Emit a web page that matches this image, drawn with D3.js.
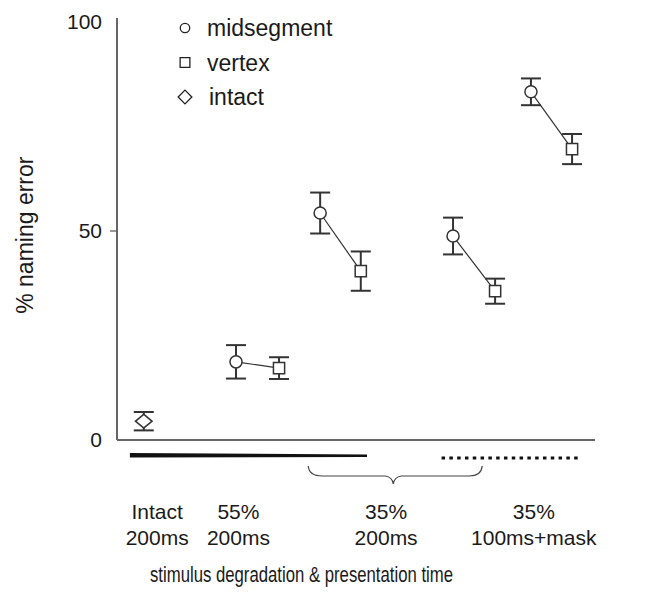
<!DOCTYPE html>
<html>
<head>
<meta charset="utf-8">
<script src="https://cdn.jsdelivr.net/npm/d3@7"></script>
<style>
  body { margin: 0; background: #fff; }
  text { font-family: "Liberation Sans", Arial, sans-serif; fill: #1a1a1a; }
</style>
</head>
<body>
<script>
const WIDTH = 654
const HEIGHT = 592

// positions along the x axis (arbitrary 0-100 units)
const midX = [24.9, 42.5, 70.3, 86.6]
const vertexX = [33.9, 51, 79.1, 95.2]
const intactX = [5.6]

// % naming error and error bar half-widths
const midsegment = [18.7, 54.3, 48.8, 83.3]
const midsegmentErr = [4, 4.9, 4.4, 3.2]
const vertex = [17.2, 40.4, 35.6, 69.6]
const vertexErr = [2.6, 4.7, 3, 3.6]
const intact = [4.5]
const intactErr = [2.2]

const yTicks = [0, 50, 100]

const catLines1 = ['Intact', '55%', '35%', '35%']
const catLines2 = ['200ms', '200ms', '200ms', '100ms+mask']
const catX = [8.4, 25.4, 56.3, 87.2]

const legendNames = ['midsegment', 'vertex', 'intact']

const svg = d3.select('body')
  .append('svg')
  .attr('width', WIDTH)
  .attr('height', HEIGHT)

const x = d3.scaleLinear().domain([0, 100]).range([117, 595])
const y = d3.scaleLinear().domain([0, 100]).range([440, 22])

// axes
svg.append('line')
  .attr('x1', x(0)).attr('x2', x(0))
  .attr('y1', 18).attr('y2', y(0))
  .attr('stroke', '#333').attr('stroke-width', 1.5)
svg.append('line')
  .attr('x1', x(0)).attr('x2', x(100))
  .attr('y1', y(0)).attr('y2', y(0))
  .attr('stroke', '#666').attr('stroke-width', 2)

svg.append('line')
  .attr('x1', x(0) - 7).attr('x2', x(0))
  .attr('y1', y(50)).attr('y2', y(50))
  .attr('stroke', '#555').attr('stroke-width', 1.2)

svg.selectAll('.ytick')
  .data(yTicks)
  .enter()
  .append('text')
  .attr('class', 'ytick')
  .attr('x', 102)
  .attr('y', d => y(d) + 7)
  .attr('text-anchor', 'end')
  .style('font-size', '21px')
  .text(d => d)

svg.append('text')
  .attr('transform', `translate(33, ${y(49)}) rotate(-90)`)
  .attr('text-anchor', 'middle')
  .style('font-size', '23px')
  .text('% naming error')

// connecting lines
const pairs = midX.map((d, i) => ({ x1: d, y1: midsegment[i], x2: vertexX[i], y2: vertex[i] }))
svg.selectAll('.link')
  .data(pairs)
  .enter()
  .append('line')
  .attr('x1', d => x(d.x1)).attr('y1', d => y(d.y1))
  .attr('x2', d => x(d.x2)).attr('y2', d => y(d.y2))
  .attr('stroke', '#333').attr('stroke-width', 1.2)

// error bars
const bars = []
midX.forEach((d, i) => bars.push({ x: d, v: midsegment[i], e: midsegmentErr[i] }))
vertexX.forEach((d, i) => bars.push({ x: d, v: vertex[i], e: vertexErr[i] }))
intactX.forEach((d, i) => bars.push({ x: d, v: intact[i], e: intactErr[i] }))

const CAP = 10
const eb = svg.selectAll('.err').data(bars).enter().append('g').attr('class', 'err')
  .attr('stroke', '#333').attr('stroke-width', 2)
eb.append('line')
  .attr('x1', d => x(d.x)).attr('x2', d => x(d.x))
  .attr('y1', d => y(d.v + d.e)).attr('y2', d => y(d.v - d.e))
eb.append('line')
  .attr('x1', d => x(d.x) - CAP).attr('x2', d => x(d.x) + CAP)
  .attr('y1', d => y(d.v + d.e)).attr('y2', d => y(d.v + d.e))
eb.append('line')
  .attr('x1', d => x(d.x) - CAP).attr('x2', d => x(d.x) + CAP)
  .attr('y1', d => y(d.v - d.e)).attr('y2', d => y(d.v - d.e))

// markers
const circle = d3.symbol().type(d3.symbolCircle).size(115)
const square = d3.symbol().type(d3.symbolSquare).size(125)
const diamond = d3.symbol().type(d3.symbolDiamond2).size(120)

svg.selectAll('.mid')
  .data(midX)
  .enter()
  .append('path')
  .attr('transform', (d, i) => `translate(${x(d)}, ${y(midsegment[i])})`)
  .attr('d', circle)
  .attr('fill', '#fff').attr('stroke', '#333').attr('stroke-width', 1.5)

svg.selectAll('.vtx')
  .data(vertexX)
  .enter()
  .append('path')
  .attr('transform', (d, i) => `translate(${x(d)}, ${y(vertex[i])})`)
  .attr('d', square)
  .attr('fill', '#fff').attr('stroke', '#333').attr('stroke-width', 1.5)

svg.selectAll('.int')
  .data(intactX)
  .enter()
  .append('path')
  .attr('transform', (d, i) => `translate(${x(d)}, ${y(intact[i])}) scale(1.2, 1)`)
  .attr('d', diamond)
  .attr('fill', '#fff').attr('stroke', '#333').attr('stroke-width', 1.5)

// legend
const legendSymbols = [
  d3.symbol().type(d3.symbolCircle).size(70),
  d3.symbol().type(d3.symbolSquare).size(95),
  d3.symbol().type(d3.symbolDiamond2).size(120)
]
const legend = svg.append('g').attr('transform', 'translate(185, 28)')
legend.selectAll('path')
  .data(legendNames)
  .enter()
  .append('path')
  .attr('transform', (d, i) => `translate(0, ${i * 34.5})`)
  .attr('d', (d, i) => legendSymbols[i]())
  .attr('fill', 'none').attr('stroke', '#222').attr('stroke-width', 1.3)
legend.selectAll('text')
  .data(legendNames)
  .enter()
  .append('text')
  .attr('x', (d, i) => i === 2 ? 24 : 22)
  .attr('y', (d, i) => i * 34.5 + 8)
  .style('font-size', '23px')
  .text(d => d)

// bottom markers: solid bar, dotted bar, brace
svg.append('path')
  .attr('d', `M${x(2.7)},${453} L${x(52.3)},${454.5} L${x(52.3)},${457} L${x(2.7)},${457.5} Z`)
  .attr('fill', '#111')
svg.append('line')
  .attr('x1', x(67.9)).attr('x2', x(96.5))
  .attr('y1', 458).attr('y2', 458)
  .attr('stroke', '#111').attr('stroke-width', 3)
  .attr('stroke-dasharray', '3.5 4.3')

const bl = x(40), br = x(76.2), bm = x(57.8)
svg.append('path')
  .attr('d', `M${bl},466 Q${bl + 1},476 ${bl + 14},476 L${bm - 8},476 Q${bm - 1},477 ${bm},484 Q${bm + 1},477 ${bm + 8},476 L${br - 12},476 Q${br},476 ${br + 1},466`)
  .attr('fill', 'none').attr('stroke', '#444').attr('stroke-width', 1.2)

// category labels
svg.selectAll('.cat1')
  .data(catLines1)
  .enter()
  .append('text')
  .attr('x', (d, i) => x(catX[i]))
  .attr('y', 519)
  .attr('text-anchor', 'middle')
  .style('font-size', '21px')
  .text(d => d)
svg.selectAll('.cat2')
  .data(catLines2)
  .enter()
  .append('text')
  .attr('x', (d, i) => x(catX[i]))
  .attr('y', 545)
  .attr('text-anchor', 'middle')
  .style('font-size', '21px')
  .text(d => d)

svg.append('text')
  .attr('x', 150)
  .attr('y', 582)
  .style('font-size', '21.5px')
  .attr('textLength', 303)
  .attr('lengthAdjust', 'spacingAndGlyphs')
  .text('stimulus degradation & presentation time')
</script>
</body>
</html>
